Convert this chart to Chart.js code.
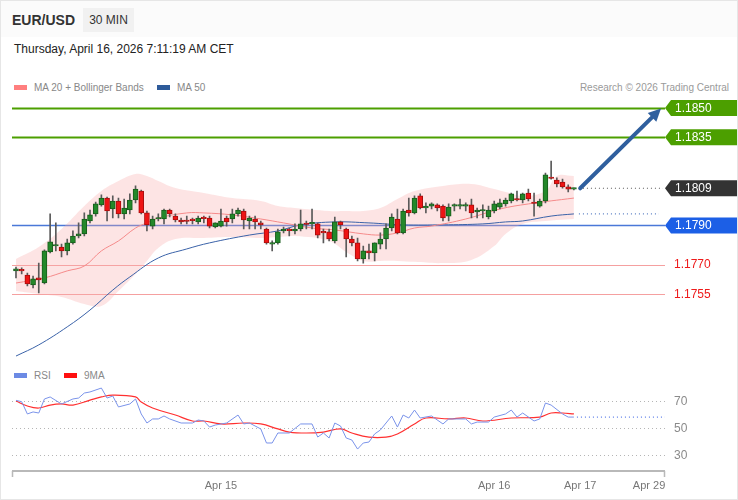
<!DOCTYPE html>
<html>
<head>
<meta charset="utf-8">
<script src="https://cdn.jsdelivr.net/npm/chart.js@4.4.1/dist/chart.umd.min.js"></script>
<style>
  body { margin: 0; background: #fff; font-family: 'Liberation Sans', Arial, sans-serif; }
  #frame { position: relative; width: 738px; height: 500px; box-sizing: border-box; border: 1px solid #e6e6e6; overflow: hidden; }
  #head { position: absolute; left: 0; top: 0; width: 738px; height: 36px; background: #fbfbfb; }
  #pair { position: absolute; left: 11px; top: 11px; font-weight: bold; font-size: 14px; color: #333; }
  #tf { position: absolute; left: 82px; top: 7px; width: 51px; height: 24px; line-height: 24px; text-align: center; background: #f1f1f1; font-size: 12px; color: #333; }
  #date { position: absolute; left: 13px; top: 41px; font-size: 12px; color: #222; }
  .leg { position: absolute; font-size: 10px; color: #888; white-space: nowrap; }
  .sw { display: inline-block; width: 13px; height: 5px; vertical-align: middle; margin-right: 7px; position: relative; top: -1px; }
  canvas { position: absolute; left: 0; }
</style>
</head>
<body>
<div id="frame">
  <div id="head"></div>
  <div id="pair">EUR/USD</div>
  <div id="tf">30 MIN</div>
  <div id="date">Thursday, April 16, 2026 7:11:19 AM CET</div>
  <div class="leg" style="left:13px;top:81px"><span class="sw" style="background:#ff7f7f"></span>MA 20 + Bollinger Bands</div>
  <div class="leg" style="left:156px;top:81px"><span class="sw" style="background:#2e5b9a"></span>MA 50</div>
  <div class="leg" style="right:8px;top:81px;color:#9a9a9a">Research © 2026 Trading Central</div>
  <div class="leg" style="left:13px;top:369px"><span class="sw" style="background:#6c8ae4"></span>RSI</div>
  <div class="leg" style="left:63px;top:369px"><span class="sw" style="background:#ff1010"></span>9MA</div>
  <canvas id="priceChart" width="738" height="368" style="top:0"></canvas>
  <canvas id="rsiChart" width="738" height="135" style="top:365px"></canvas>
</div>
<script>
// 30 min candles, Apr 14 06:00 -> Apr 16 07:00 (index 0..98)
var opens = [
  1.17668,1.17673,1.17647,1.17596,1.17632,1.17606,1.17765,1.17795,1.17790,1.17770,
  1.17811,1.17846,1.17857,1.17923,1.17959,1.18005,1.18040,1.17984,1.18025,1.17959,
  1.17979,1.18030,1.18076,1.17964,1.17897,1.17933,1.17933,1.17979,1.17948,1.17928,
  1.17923,1.17928,1.17918,1.17938,1.17938,1.17892,1.17897,1.17938,1.17933,1.17959,
  1.17974,1.17923,1.17933,1.17913,1.17882,1.17805,1.17811,1.17872,1.17877,1.17872,
  1.17882,1.17908,1.17908,1.17908,1.17867,1.17867,1.17821,1.17918,1.17882,1.17831,
  1.17811,1.17729,1.17770,1.17760,1.17805,1.17831,1.17887,1.17933,1.17862,1.17979,
  1.17964,1.18051,1.17989,1.17999,1.18005,1.17999,1.17948,1.17999,1.17999,1.17999,
  1.18005,1.17969,1.17974,1.17943,1.17974,1.17994,1.18010,1.18025,1.18035,1.18030,
  1.18066,1.18015,1.17999,1.18025,1.18143,1.18132,1.18122,1.18097,1.18086
];
var highs = [
  1.17688,1.17683,1.17657,1.17642,1.17708,1.17775,1.17959,1.17913,1.17805,1.17831,
  1.17872,1.17913,1.17964,1.17979,1.18020,1.18056,1.18045,1.18051,1.18040,1.18035,
  1.18061,1.18102,1.18081,1.17974,1.17948,1.17959,1.17984,1.17984,1.17959,1.17938,
  1.17948,1.17938,1.17948,1.17948,1.17948,1.17913,1.17984,1.17948,1.17984,1.17989,
  1.17984,1.17948,1.17948,1.17923,1.17887,1.17821,1.17882,1.17892,1.17887,1.17908,
  1.17979,1.17923,1.17984,1.17913,1.17882,1.17882,1.17943,1.17923,1.17887,1.17846,
  1.17836,1.17795,1.17805,1.17811,1.17862,1.17908,1.17959,1.17984,1.17984,1.18040,
  1.18051,1.18061,1.18015,1.18015,1.18010,1.18005,1.18010,1.18010,1.18035,1.18015,
  1.18035,1.17989,1.18005,1.17999,1.18025,1.18035,1.18040,1.18066,1.18076,1.18066,
  1.18086,1.18066,1.18035,1.18168,1.18229,1.18143,1.18137,1.18107,1.18091
];
var lows = [
  1.17632,1.17652,1.17591,1.17581,1.17555,1.17601,1.17760,1.17770,1.17739,1.17749,
  1.17805,1.17836,1.17846,1.17913,1.17948,1.17999,1.17923,1.17938,1.17938,1.17933,
  1.17959,1.18015,1.17959,1.17872,1.17882,1.17923,1.17908,1.17943,1.17918,1.17908,
  1.17908,1.17908,1.17908,1.17913,1.17887,1.17887,1.17892,1.17897,1.17913,1.17948,
  1.17882,1.17882,1.17882,1.17882,1.17805,1.17770,1.17805,1.17862,1.17846,1.17857,
  1.17872,1.17882,1.17882,1.17836,1.17811,1.17821,1.17811,1.17882,1.17739,1.17795,
  1.17719,1.17708,1.17729,1.17719,1.17780,1.17780,1.17872,1.17857,1.17857,1.17948,
  1.17959,1.17984,1.17964,1.17984,1.17974,1.17923,1.17923,1.17974,1.17984,1.17974,
  1.17938,1.17938,1.17938,1.17933,1.17964,1.17984,1.17999,1.18015,1.18025,1.18015,
  1.18025,1.17948,1.17994,1.18015,1.18137,1.18097,1.18091,1.18071,1.18081
];
var closes = [
  1.17678,1.17668,1.17601,1.17627,1.17622,1.17770,1.17816,1.17800,1.17770,1.17811,
  1.17846,1.17857,1.17933,1.17954,1.18010,1.18040,1.17974,1.18025,1.17959,1.17989,
  1.18030,1.18086,1.17964,1.17903,1.17933,1.17938,1.17979,1.17959,1.17928,1.17918,
  1.17920,1.17925,1.17938,1.17935,1.17897,1.17913,1.17923,1.17918,1.17959,1.17979,
  1.17928,1.17938,1.17918,1.17903,1.17811,1.17811,1.17867,1.17882,1.17874,1.17882,
  1.17908,1.17905,1.17913,1.17851,1.17862,1.17831,1.17918,1.17903,1.17831,1.17811,
  1.17729,1.17770,1.17760,1.17811,1.17831,1.17887,1.17943,1.17862,1.17974,1.17964,
  1.18040,1.17989,1.17999,1.18010,1.17989,1.17938,1.17994,1.18002,1.18002,1.18002,
  1.17964,1.17979,1.17977,1.17979,1.18010,1.18015,1.18030,1.18061,1.18030,1.18061,
  1.18035,1.18012,1.18025,1.18158,1.18140,1.18112,1.18097,1.18086,1.18090
];

// indicators, read at sample candles
var ma20Idx = [0,5,9,12,15,18,21,23,25,30,33,38,43,47,52,56,61,64,67,70,73,79,85,90,98];
var ma20Val = [1.17606,1.17632,1.17668,1.17693,1.17770,1.17821,1.17887,1.17913,1.17938,1.17964,1.17964,1.17954,1.17933,1.17913,1.17887,1.17877,1.17857,1.17851,1.17862,1.17887,1.17897,1.17933,1.17984,1.18010,1.18040];

var bandIdx = [0,4,8,12,15,18,21,23,25,28,33,38,43,46,49,55,58,61,64,67,70,75,80,84,86,89,93,95,98];
var bandUpper = [1.17729,1.17790,1.17882,1.17999,1.18076,1.18127,1.18163,1.18153,1.18127,1.18091,1.18066,1.18040,1.18025,1.17999,1.17989,1.17974,1.17974,1.17974,1.17989,1.18035,1.18076,1.18102,1.18112,1.18086,1.18071,1.18051,1.18076,1.18153,1.18153];
var bandLower = [1.17565,1.17550,1.17535,1.17499,1.17489,1.17565,1.17652,1.17719,1.17785,1.17831,1.17836,1.17841,1.17836,1.17841,1.17846,1.17821,1.17765,1.17719,1.17719,1.17719,1.17714,1.17708,1.17724,1.17795,1.17857,1.17908,1.17923,1.17928,1.17933];

var ma50Idx = [0,4,9,13,17,20,25,30,34,41,46,50,56,62,68,75,82,86,89,94,98];
var ma50Val = [1.17233,1.17290,1.17382,1.17468,1.17570,1.17637,1.17734,1.17780,1.17811,1.17851,1.17872,1.17903,1.17918,1.17913,1.17903,1.17903,1.17908,1.17918,1.17923,1.17948,1.17959];

var rsiIdx = [0,1,2,3,4,5,6,8,10,11,12,13,15,16,17,18,20,21,22,23,24,25,26,27,29,31,32,33,34,35,37,39,40,41,43,44,45,46,48,50,52,53,54,55,56,57,58,59,60,61,62,63,64,66,67,68,69,70,71,73,75,76,78,79,80,81,83,84,86,87,88,89,91,92,93,94,96,97,98];
var rsiVal = [70.5,69.5,60.4,61.9,61.1,71.5,73.0,67.8,71.5,72.2,75.9,76.7,79.6,72.2,73.7,65.6,67.8,71.5,60.4,53.7,56.7,56.7,58.9,56.7,53.7,53.7,55.9,55.2,50.7,52.2,53.7,59.6,53.0,53.7,49.3,38.9,38.9,46.3,46.3,53.0,53.0,43.3,46.3,42.6,53.7,51.5,42.6,41.1,34.4,38.9,39.6,45.6,48.5,58.9,50.7,59.6,57.4,63.3,57.4,58.9,53.0,56.7,56.7,56.7,53.0,54.4,54.4,58.1,60.4,63.3,58.1,61.1,55.2,56.7,68.5,67.0,60.4,58.1,58.1];

var ma9Idx = [0,2,4,6,8,10,13,15,17,21,22,24,28,31,33,36,40,43,46,48,51,54,57,59,62,65,67,70,72,76,79,82,87,92,94,96,98];
var ma9Val = [70.0,66.3,64.8,67.0,67.8,67.0,70.7,73.0,74.4,73.0,69.3,64.8,59.6,55.2,55.2,53.0,53.7,53.0,49.3,47.0,46.3,47.0,49.3,46.3,43.3,43.3,45.6,53.0,57.4,56.7,57.4,55.2,57.4,58.1,61.1,61.1,60.4];

// levels and forecast
var levelPrices = [1.1850, 1.1835, 1.1809, 1.1790, 1.1770, 1.1755];
var levelKinds = ['target', 'target', 'last', 'pivot', 'support', 'support'];
var arrowFrom = [99.1, 1.1809];
var arrowTo = [113.3, 1.18497];

var rsiLevels = [70, 50, 30];
var tickPos = [36, 84, 99.1, 111.2];
var tickLabels = ['Apr 15', 'Apr 16', 'Apr 17', 'Apr 29'];

var X_MIN = -0.7, X_MAX = 114;
var FONT = "'Liberation Sans', Arial, sans-serif";

function pts(idx, vals) {
  return idx.map(function(i, k) { return { x: i, y: vals[k] }; });
}

var candleIdx = opens.map(function(o, i) { return i; });
var wickData = candleIdx.map(function(i) { return { x: i, y: [lows[i], highs[i]] }; });
var bodyData = candleIdx.map(function(i) { return { x: i, y: [opens[i], closes[i]] }; });
var up = function(i) { return closes[i] >= opens[i]; };

function drawTag(ctx, xl, yc, color, text) {
  var h = 16, w = 72;
  ctx.fillStyle = color;
  ctx.beginPath();
  ctx.moveTo(xl, yc);
  ctx.lineTo(xl + 6, yc - h / 2);
  ctx.lineTo(xl + w, yc - h / 2);
  ctx.lineTo(xl + w, yc + h / 2);
  ctx.lineTo(xl + 6, yc + h / 2);
  ctx.closePath();
  ctx.fill();
  ctx.fillStyle = '#fff';
  ctx.fillText(text, xl + 10, yc + 0.5);
}

var levelPlugin = {
  id: 'levels',
  beforeDatasetsDraw: function(chart) {
    var ctx = chart.ctx, a = chart.chartArea, x = chart.scales.x, y = chart.scales.y;
    ctx.save();
    levelPrices.forEach(function(p, k) {
      var kind = levelKinds[k];
      var py = Math.round(y.getPixelForValue(p)) + 0.5;
      ctx.beginPath();
      ctx.setLineDash([]);
      if (kind === 'target') { ctx.strokeStyle = '#4c9f00'; ctx.lineWidth = 2; }
      else if (kind === 'pivot') { ctx.strokeStyle = '#4a78d8'; ctx.lineWidth = 1.6; }
      else if (kind === 'support') { ctx.strokeStyle = '#f5a0a0'; ctx.lineWidth = 1.2; }
      else return;
      ctx.moveTo(a.left, py);
      ctx.lineTo(a.right, py);
      ctx.stroke();
    });
    ctx.restore();
  },
  afterDatasetsDraw: function(chart) {
    var ctx = chart.ctx, a = chart.chartArea, x = chart.scales.x, y = chart.scales.y;
    var lastX = x.getPixelForValue(candleIdx.length - 1) + 5;
    ctx.save();
    ctx.font = '12px ' + FONT;
    ctx.textBaseline = 'middle';
    // dotted extension of MA 50
    var m50 = y.getPixelForValue(ma50Val[ma50Val.length - 1]);
    ctx.strokeStyle = '#5a7fc4';
    ctx.lineWidth = 1.2;
    ctx.setLineDash([1, 3]);
    ctx.beginPath(); ctx.moveTo(lastX, m50); ctx.lineTo(a.right - 6, m50); ctx.stroke();

    levelPrices.forEach(function(p, k) {
      var kind = levelKinds[k];
      var py = y.getPixelForValue(p);
      var txt = p.toFixed(4);
      if (kind === 'last') {
        ctx.strokeStyle = '#555';
        ctx.setLineDash([1, 3]);
        ctx.beginPath(); ctx.moveTo(lastX, py); ctx.lineTo(a.right - 2, py); ctx.stroke();
        ctx.setLineDash([]);
        drawTag(ctx, a.right, py, '#333333', txt);
      } else if (kind === 'target') {
        drawTag(ctx, a.right, py, '#4c9f00', txt);
      } else if (kind === 'pivot') {
        drawTag(ctx, a.right, py, '#1c5fe6', txt);
      } else {
        ctx.fillStyle = '#ee1b1b';
        ctx.fillText(txt, a.right + 9, py + 0.5);
      }
    });

    // forecast arrow
    var sx = x.getPixelForValue(arrowFrom[0]), sy = y.getPixelForValue(arrowFrom[1]);
    var ex = x.getPixelForValue(arrowTo[0]), ey = y.getPixelForValue(arrowTo[1]);
    var ang = Math.atan2(ey - sy, ex - sx), head = 14;
    ctx.setLineDash([]);
    ctx.strokeStyle = '#2f5f9e';
    ctx.fillStyle = '#2f5f9e';
    ctx.lineWidth = 4;
    ctx.lineCap = 'round';
    ctx.beginPath();
    ctx.moveTo(sx, sy);
    ctx.lineTo(ex - Math.cos(ang) * head * 0.8, ey - Math.sin(ang) * head * 0.8);
    ctx.stroke();
    ctx.beginPath();
    ctx.moveTo(ex, ey);
    ctx.lineTo(ex - head * Math.cos(ang - 0.45), ey - head * Math.sin(ang - 0.45));
    ctx.lineTo(ex - head * Math.cos(ang + 0.45), ey - head * Math.sin(ang + 0.45));
    ctx.closePath();
    ctx.fill();
    ctx.restore();
  }
};

var priceChart = new Chart(document.getElementById('priceChart').getContext('2d'), {
  type: 'bar',
  data: {
    datasets: [
      { type: 'bar', data: bodyData, order: 0, barThickness: 5, borderWidth: 1, borderSkipped: false, minBarLength: 1.5, grouped: false,
        backgroundColor: function(c) { return up(c.dataIndex) ? '#23882a' : '#ee1414'; },
        borderColor: function(c) { return up(c.dataIndex) ? '#175c1b' : '#a80d0d'; } },
      { type: 'bar', data: wickData, order: 1, barThickness: 1, grouped: false, backgroundColor: '#5a5a5a' },
      { type: 'line', data: pts(ma20Idx, ma20Val), order: 2, borderColor: '#f58a8a', borderWidth: 1, pointRadius: 0, tension: 0.4 },
      { type: 'line', data: pts(ma50Idx, ma50Val), order: 2, borderColor: '#3a62a8', borderWidth: 1, pointRadius: 0, tension: 0.4 },
      { type: 'line', data: pts(bandIdx, bandUpper), order: 3, borderWidth: 0, pointRadius: 0, tension: 0.4, fill: false },
      { type: 'line', data: pts(bandIdx, bandLower), order: 4, borderWidth: 0, pointRadius: 0, tension: 0.4, fill: '-1', backgroundColor: 'rgba(250,170,170,0.32)' }
    ]
  },
  options: {
    responsive: false,
    animation: false,
    devicePixelRatio: 1,
    layout: { padding: { left: 11, right: 74, top: 95.25, bottom: 6.5 } },
    plugins: { legend: { display: false }, tooltip: { enabled: false } },
    scales: {
      x: { type: 'linear', min: X_MIN, max: X_MAX, offset: false, display: false },
      y: { type: 'linear', min: 1.1720, max: 1.1856, display: false }
    }
  },
  plugins: [levelPlugin]
});

var rsiPlugin = {
  id: 'rsiDecor',
  beforeDatasetsDraw: function(chart) {
    var ctx = chart.ctx, a = chart.chartArea, y = chart.scales.y;
    ctx.save();
    ctx.strokeStyle = '#b5b5b5';
    ctx.lineWidth = 1;
    ctx.setLineDash([1, 3]);
    ctx.font = '12px ' + FONT;
    ctx.fillStyle = '#8a8a8a';
    ctx.textBaseline = 'middle';
    rsiLevels.forEach(function(v) {
      var py = Math.round(y.getPixelForValue(v)) + 0.5;
      ctx.beginPath(); ctx.moveTo(a.left, py); ctx.lineTo(a.right, py); ctx.stroke();
      ctx.fillText(String(v), a.right + 9, py);
    });
    ctx.restore();
  },
  afterDatasetsDraw: function(chart) {
    var ctx = chart.ctx, a = chart.chartArea, x = chart.scales.x, y = chart.scales.y;
    ctx.save();
    // dotted extension of the RSI
    var py = y.getPixelForValue(rsiVal[rsiVal.length - 1]);
    ctx.strokeStyle = '#5b7de8';
    ctx.lineWidth = 1.2;
    ctx.setLineDash([1, 3]);
    ctx.beginPath(); ctx.moveTo(x.getPixelForValue(rsiIdx[rsiIdx.length - 1]) + 3, py); ctx.lineTo(a.right, py); ctx.stroke();
    // time axis
    ctx.setLineDash([]);
    ctx.strokeStyle = '#b9b9b9';
    ctx.lineWidth = 2;
    ctx.beginPath();
    ctx.moveTo(a.left, a.bottom); ctx.lineTo(a.right, a.bottom);
    ctx.stroke();
    ctx.lineWidth = 1.5;
    ctx.beginPath();
    ctx.moveTo(a.left + 0.5, a.bottom); ctx.lineTo(a.left + 0.5, a.bottom + 6);
    ctx.moveTo(a.right - 0.5, a.bottom); ctx.lineTo(a.right - 0.5, a.bottom + 6);
    ctx.stroke();
    ctx.restore();
  }
};

var rsiChart = new Chart(document.getElementById('rsiChart').getContext('2d'), {
  type: 'line',
  data: {
    datasets: [
      { data: pts(rsiIdx, rsiVal), borderColor: '#7a93ea', borderWidth: 1, pointRadius: 0, tension: 0 },
      { data: pts(ma9Idx, ma9Val), borderColor: '#ff3030', borderWidth: 1.2, pointRadius: 0, tension: 0.4 }
    ]
  },
  options: {
    responsive: false,
    animation: false,
    devicePixelRatio: 1,
    layout: { padding: { left: 11, right: 74, top: 13, bottom: 0 } },
    plugins: { legend: { display: false }, tooltip: { enabled: false } },
    scales: {
      x: {
        type: 'linear', min: X_MIN, max: X_MAX, offset: false,
        grid: { display: false, drawTicks: false },
        border: { display: false },
        afterBuildTicks: function(axis) { axis.ticks = tickPos.map(function(v) { return { value: v }; }); },
        afterFit: function(axis) { axis.height = 30; },
        ticks: {
          autoSkip: false, maxRotation: 0, padding: 8, color: '#777',
          font: { size: 11, family: FONT },
          callback: function(v, i) { return tickLabels[i]; }
        }
      },
      y: { type: 'linear', min: 18.15, max: 86.3, display: false }
    }
  },
  plugins: [rsiPlugin]
});
</script>
</body>
</html>
